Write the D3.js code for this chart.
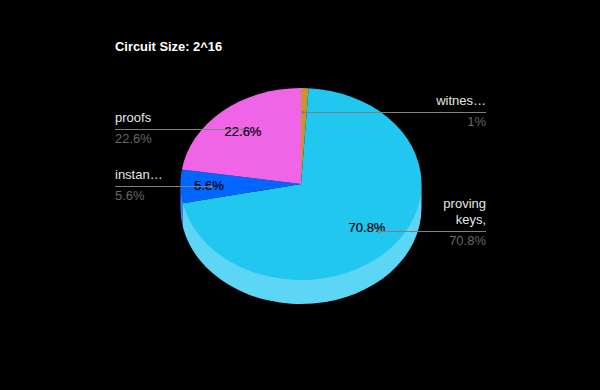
<!DOCTYPE html>
<html>
<head>
<meta charset="utf-8">
<script src="https://cdn.jsdelivr.net/npm/d3@7"></script>
<style>
  html, body { margin: 0; padding: 0; background: #000; }
  svg { display: block; }
  text { font-family: Arial, "Liberation Sans", sans-serif; }
</style>
</head>
<body>
<div id="chart"></div>
<script>
// slices run clockwise from 12 o'clock
var categories = ["witness", "proving keys", "instance", "proofs"];
var values = [1, 70.8, 5.6, 22.6];
var sliceLabels = ["1%", "70.8%", "5.6%", "22.6%"];
var legendLines = [["witnes\u2026"], ["proving", "keys,"], ["instan\u2026"], ["proofs"]];
var topColours = ["#cc9430", "#22c7f0", "#0066ff", "#f065e8"];
var sideColours = ["#e2b56a", "#5dd5f5", "#3d86f5", "#f48fee"];
var chartTitle = "Circuit Size: 2^16";

var width = 600, height = 390;
var cx = 301, cy = 184, rx = 120.5, ry = 96, depth = 24;

var svg = d3.select("#chart").append("svg")
    .attr("width", width)
    .attr("height", height);

svg.append("rect")
    .attr("width", width)
    .attr("height", height)
    .attr("fill", "#000");

svg.append("text")
    .attr("x", 115)
    .attr("y", 50.5)
    .attr("font-size", 12.9)
    .attr("font-weight", "bold")
    .attr("fill", "#fff")
    .text(chartTitle);

var pie = d3.pie().sort(null).value(function(d) { return d; });
var arcs = pie(values);
var arc = d3.arc().innerRadius(0).outerRadius(rx);

function edgePoint(angle, offset) {
    return [cx + Math.sin(angle) * rx, cy - Math.cos(angle) * ry + offset];
}

// the rim, only the part of a slice that faces the viewer
// starts a bit above the edge so no dark seam shows under the top face
function sidePath(d) {
    var a0 = Math.max(d.startAngle, Math.PI / 2);
    var a1 = Math.min(d.endAngle, Math.PI * 3 / 2);
    if (a1 <= a0) return null;
    var p0 = edgePoint(a0, -2), p1 = edgePoint(a1, -2);
    var p2 = edgePoint(a1, depth), p3 = edgePoint(a0, depth);
    return "M" + p0 + "A" + rx + "," + ry + " 0 0 1 " + p1 +
        "L" + p2 + "A" + rx + "," + ry + " 0 0 0 " + p3 + "Z";
}

svg.selectAll(".side")
    .data(arcs)
    .enter().append("path")
    .attr("class", "side")
    .attr("d", sidePath)
    .attr("fill", function(d, i) { return sideColours[i]; });

svg.selectAll(".slice")
    .data(arcs)
    .enter().append("path")
    .attr("class", "slice")
    .attr("transform", "translate(" + cx + "," + cy + ") scale(1," + (ry / rx) + ")")
    .attr("d", arc)
    .attr("fill", function(d, i) { return topColours[i]; });

// value labels inside the slices, the tiny one has none
var inLabelX = [null, 367, 209, 243];
var inLabelY = [null, 232, 190, 136];
values.forEach(function(v, i) {
    if (inLabelX[i] === null) return;
    svg.append("text")
        .attr("x", inLabelX[i])
        .attr("y", inLabelY[i])
        .attr("text-anchor", "middle")
        .attr("font-size", 13)
        .attr("fill", "#000")
        .attr("stroke", "#000")
        .attr("stroke-width", 0.2)
        .text(sliceLabels[i]);
});

// leader lines go over the value labels
var lineY = [112.5, 231.5, 186.5, 129.5];
var lineOuter = [486, 486, 115, 115];
var lineInner = [303, 379, 211, 243];

svg.selectAll(".leader")
    .data(arcs)
    .enter().append("line")
    .attr("class", "leader")
    .attr("x1", function(d, i) { return lineOuter[i]; })
    .attr("x2", function(d, i) { return lineInner[i]; })
    .attr("y1", function(d, i) { return lineY[i]; })
    .attr("y2", function(d, i) { return lineY[i]; })
    .attr("stroke", "#808080")
    .attr("stroke-width", 1);

svg.selectAll(".dot")
    .data(arcs)
    .enter().append("circle")
    .attr("class", "dot")
    .attr("cx", function(d, i) { return lineInner[i]; })
    .attr("cy", function(d, i) { return lineY[i]; })
    .attr("r", 1.5)
    .attr("fill", "#808080");

// legend rows either side of the pie
var nameBase = [[105], [207.5, 224], [179], [122]];
var valueBase = [126, 245, 200, 143];
var legendX = [486, 486, 115, 115];
var legendAnchor = ["end", "end", "start", "start"];

categories.forEach(function(c, i) {
    legendLines[i].forEach(function(line, j) {
        svg.append("text")
            .attr("x", legendX[i])
            .attr("y", nameBase[i][j])
            .attr("text-anchor", legendAnchor[i])
            .attr("font-size", 13)
            .attr("fill", "#e6e6e6")
            .text(line);
    });
    svg.append("text")
        .attr("x", legendX[i])
        .attr("y", valueBase[i])
        .attr("text-anchor", legendAnchor[i])
        .attr("font-size", 13)
        .attr("fill", "#666")
        .text(sliceLabels[i]);
});
</script>
</body>
</html>
